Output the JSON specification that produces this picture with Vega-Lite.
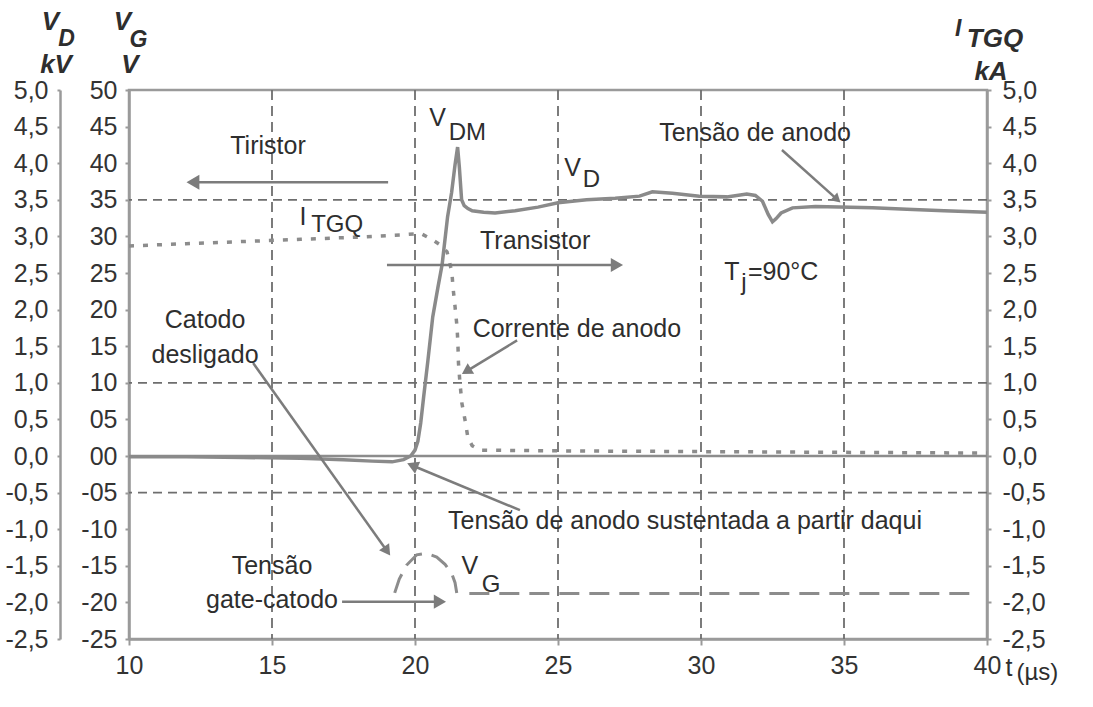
{
  "$schema": "https://vega.github.io/schema/vega-lite/v6.json",
  "width": 858,
  "height": 549,
  "autosize": {"type": "none"},
  "padding": {"left": 129, "top": 90, "right": 106, "bottom": 68},
  "background": "white",
  "config": {
    "view": {"stroke": "#9a9a9a", "strokeWidth": 2.5},
    "axis": {
      "labelFont": "Liberation Sans",
      "labelFontSize": 25,
      "labelColor": "#333333",
      "domainColor": "#9a9a9a",
      "domainWidth": 2.5,
      "tickColor": "#9a9a9a",
      "tickWidth": 2,
      "grid": false,
      "labelOverlap": false,
      "labelFlush": false
    },
    "text": {"font": "Liberation Sans", "color": "#2e2e2e"}
  },
  "datasets": {
    "gridv": [{"t": 15}, {"t": 20}, {"t": 25}, {"t": 30}, {"t": 35}],
    "gridh": [{"kv": 3.5}, {"kv": 1.0}, {"kv": -0.5}],
    "zero": [{"kv": 0}],
    "vd": [
      {"t": 10, "v": -0.01}, {"t": 12, "v": -0.01}, {"t": 14, "v": -0.02}, {"t": 16, "v": -0.03},
      {"t": 17.5, "v": -0.05}, {"t": 18.5, "v": -0.07}, {"t": 19.2, "v": -0.08}, {"t": 19.6, "v": -0.05},
      {"t": 19.85, "v": 0}, {"t": 20, "v": 0.08}, {"t": 20.1, "v": 0.2}, {"t": 20.2, "v": 0.45},
      {"t": 20.3, "v": 0.8}, {"t": 20.45, "v": 1.3}, {"t": 20.62, "v": 1.9}, {"t": 20.8, "v": 2.3},
      {"t": 20.95, "v": 2.62}, {"t": 21.14, "v": 3.27}, {"t": 21.28, "v": 3.6}, {"t": 21.4, "v": 3.98},
      {"t": 21.49, "v": 4.22}, {"t": 21.55, "v": 3.95}, {"t": 21.63, "v": 3.5}, {"t": 21.72, "v": 3.42},
      {"t": 21.85, "v": 3.38}, {"t": 22, "v": 3.35}, {"t": 22.4, "v": 3.33}, {"t": 22.8, "v": 3.32},
      {"t": 23.5, "v": 3.35}, {"t": 24.3, "v": 3.4}, {"t": 25, "v": 3.46}, {"t": 26, "v": 3.5},
      {"t": 27, "v": 3.52}, {"t": 27.85, "v": 3.55}, {"t": 28.3, "v": 3.61}, {"t": 29, "v": 3.59},
      {"t": 29.94, "v": 3.55}, {"t": 30.9, "v": 3.54}, {"t": 31.6, "v": 3.58}, {"t": 31.9, "v": 3.56},
      {"t": 32.15, "v": 3.48}, {"t": 32.35, "v": 3.3}, {"t": 32.5, "v": 3.2}, {"t": 32.62, "v": 3.24},
      {"t": 32.8, "v": 3.32}, {"t": 33.2, "v": 3.39}, {"t": 34, "v": 3.41}, {"t": 34.83, "v": 3.4},
      {"t": 36, "v": 3.39}, {"t": 37.2, "v": 3.37}, {"t": 38.5, "v": 3.35}, {"t": 40, "v": 3.33}
    ],
    "itgq": [
      {"t": 10, "i": 2.87}, {"t": 12, "i": 2.9}, {"t": 14, "i": 2.93}, {"t": 16, "i": 2.96},
      {"t": 18, "i": 2.99}, {"t": 19.5, "i": 3.02}, {"t": 20.2, "i": 3.04}, {"t": 20.59, "i": 2.96},
      {"t": 20.9, "i": 2.88}, {"t": 21.12, "i": 2.79}, {"t": 21.29, "i": 2.51}, {"t": 21.33, "i": 2.3},
      {"t": 21.4, "i": 2.04}, {"t": 21.47, "i": 1.76}, {"t": 21.5, "i": 1.54}, {"t": 21.52, "i": 1.27},
      {"t": 21.57, "i": 1.01}, {"t": 21.64, "i": 0.72}, {"t": 21.75, "i": 0.49}, {"t": 21.85, "i": 0.25},
      {"t": 22, "i": 0.14}, {"t": 22.27, "i": 0.08}, {"t": 25, "i": 0.07}, {"t": 30, "i": 0.06},
      {"t": 35, "i": 0.05}, {"t": 40, "i": 0.04}
    ],
    "vg": [
      {"t": 19.29, "vg": -18.7, "seg": "a"}, {"t": 19.45, "vg": -16.8, "seg": "a"}, {"t": 19.71, "vg": -14.9, "seg": "a"},
      {"t": 20.06, "vg": -13.5, "seg": "a"}, {"t": 20.4, "vg": -13.3, "seg": "a"}, {"t": 20.76, "vg": -13.8, "seg": "a"},
      {"t": 21.05, "vg": -14.8, "seg": "a"}, {"t": 21.28, "vg": -16.0, "seg": "a"}, {"t": 21.4, "vg": -17.3, "seg": "a"},
      {"t": 21.46, "vg": -18.7, "seg": "a"},
      {"t": 21.9, "vg": -18.8, "seg": "b"}, {"t": 39.4, "vg": -18.8, "seg": "b"}
    ],
    "arrows": [
      {"id": "tiristor", "t": 12.31, "v": 3.74, "t0": 19.06, "v0": 3.74},
      {"id": "transistor", "t": 26.99, "v": 2.61, "t0": 19.02, "v0": 2.61},
      {"id": "anodo", "t": 34.72, "v": 3.52, "t0": 32.83, "v0": 4.18},
      {"id": "catodo", "t": 18.99, "v": -1.28, "t0": 14.34, "v0": 1.27},
      {"id": "corrente", "t": 21.85, "v": 1.17, "t0": 23.57, "v0": 1.58},
      {"id": "sustentada", "t": 19.97, "v": -0.14, "t0": 23.67, "v0": -0.74},
      {"id": "gate", "t": 20.8, "v": -1.99, "t0": 17.45, "v0": -1.99}
    ],
    "notes": [
      {"t": 14.86, "v": 4.23, "text": "Tiristor"},
      {"t": 24.2, "v": 2.94, "text": "Transistor"},
      {"t": 31.89, "v": 4.41, "text": "Tensão de anodo"},
      {"t": 25.66, "v": 1.73, "text": "Corrente de anodo"},
      {"t": 12.66, "v": 1.86, "text": "Catodo"},
      {"t": 12.66, "v": 1.38, "text": "desligado"},
      {"t": 29.44, "v": -0.89, "text": "Tensão de anodo sustentada a partir daqui"},
      {"t": 15.0, "v": -1.5, "text": "Tensão"},
      {"t": 15.0, "v": -1.97, "text": "gate-catodo"},
      {"t": 20.79, "v": 4.62, "text": "V"},
      {"t": 25.51, "v": 3.94, "text": "V"},
      {"t": 16.08, "v": 3.27, "text": "I"},
      {"t": 21.92, "v": -1.5, "text": "V"},
      {"t": 31.08, "v": 2.51, "text": "T"},
      {"t": 40.77, "v": -2.89, "text": "t"}
    ],
    "subs": [
      {"t": 21.83, "v": 4.41, "text": "DM"},
      {"t": 26.17, "v": 3.77, "text": "D"},
      {"t": 17.28, "v": 3.16, "text": "TGQ"},
      {"t": 22.66, "v": -1.76, "text": "G"},
      {"t": 31.5, "v": 2.37, "text": "j"},
      {"t": 41.76, "v": -2.97, "text": "(µs)"}
    ],
    "leftnotes": [
      {"t": 31.64, "v": 2.51, "text": "=90°C"}
    ],
    "titles": [
      {"t": 7.25, "v": 5.93, "text": "V"},
      {"t": 7.45, "v": 5.34, "text": "kV"},
      {"t": 9.77, "v": 5.93, "text": "V"},
      {"t": 10.03, "v": 5.34, "text": "V"},
      {"t": 40.28, "v": 5.7, "text": "TGQ"},
      {"t": 40.14, "v": 5.25, "text": "kA"}
    ],
    "titlesubs": [
      {"t": 7.82, "v": 5.7, "text": "D"},
      {"t": 10.33, "v": 5.68, "text": "G"},
      {"t": 38.99, "v": 5.83, "text": "I"}
    ]
  },
  "layer": [
    {
      "data": {"name": "gridv"},
      "mark": {"type": "rule", "color": "#6e6e6e", "strokeWidth": 1.8, "strokeDash": [10, 6]},
      "encoding": {
        "x": {
          "field": "t", "type": "quantitative",
          "scale": {"domain": [10, 40], "nice": false, "zero": false},
          "axis": {"orient": "bottom", "values": [10, 15, 20, 25, 30, 35, 40], "title": null, "tickSize": 6, "labelPadding": 8, "labelFontSize": 25, "labelColor": "#333333"}
        }
      }
    },
    {
      "data": {"name": "gridh"},
      "mark": {"type": "rule", "color": "#6e6e6e", "strokeWidth": 1.8, "strokeDash": [9, 6]},
      "encoding": {
        "y": {"field": "kv", "type": "quantitative", "scale": {"domain": [-2.5, 5], "nice": false, "zero": false}, "axis": null}
      }
    },
    {
      "data": {"name": "zero"},
      "mark": {"type": "rule", "color": "#8c8c8c", "strokeWidth": 2.5},
      "encoding": {
        "y": {"field": "kv", "type": "quantitative", "scale": {"domain": [-2.5, 5], "nice": false, "zero": false}, "axis": null}
      }
    },
    {
      "data": {"name": "vg"},
      "mark": {"type": "line", "color": "#8c8c8c", "strokeWidth": 3, "strokeDash": [20, 10]},
      "encoding": {
        "x": {"field": "t", "type": "quantitative", "scale": {"domain": [10, 40], "nice": false, "zero": false}},
        "y": {
          "field": "vg", "type": "quantitative",
          "scale": {"domain": [-25, 50], "nice": false, "zero": false},
          "axis": {
            "orient": "left", "offset": 0, "title": null,
            "values": [-25, -20, -15, -10, -5, 0, 5, 10, 15, 20, 25, 30, 35, 40, 45, 50],
            "labelExpr": "(datum.value < 0 ? '-' : '') + (abs(datum.value) < 10 ? '0' : '') + abs(datum.value)",
            "tickSize": 4, "labelPadding": 8
          }
        },
        "detail": {"field": "seg", "type": "nominal"}
      }
    },
    {
      "data": {"name": "itgq"},
      "mark": {"type": "line", "color": "#8c8c8c", "strokeWidth": 3.5, "strokeDash": [5, 9]},
      "encoding": {
        "x": {"field": "t", "type": "quantitative", "scale": {"domain": [10, 40], "nice": false, "zero": false}},
        "y": {
          "field": "i", "type": "quantitative",
          "scale": {"domain": [-2.5, 5], "nice": false, "zero": false},
          "axis": {
            "orient": "right", "title": null,
            "values": [-2.5, -2, -1.5, -1, -0.5, 0, 0.5, 1, 1.5, 2, 2.5, 3, 3.5, 4, 4.5, 5],
            "labelExpr": "(datum.value < 0 ? '-' : '') + replace(format(abs(datum.value), '.1f'), '.', ',')",
            "tickSize": 4, "labelPadding": 11
          }
        }
      }
    },
    {
      "data": {"name": "vd"},
      "mark": {"type": "line", "color": "#8a8a8a", "strokeWidth": 3.5},
      "encoding": {
        "x": {"field": "t", "type": "quantitative", "scale": {"domain": [10, 40], "nice": false, "zero": false}},
        "y": {
          "field": "v", "type": "quantitative",
          "scale": {"domain": [-2.5, 5], "nice": false, "zero": false},
          "axis": {
            "orient": "left", "offset": 69, "title": null,
            "values": [-2.5, -2, -1.5, -1, -0.5, 0, 0.5, 1, 1.5, 2, 2.5, 3, 3.5, 4, 4.5, 5],
            "labelExpr": "(datum.value < 0 ? '-' : '') + replace(format(abs(datum.value), '.1f'), '.', ',')",
            "tickSize": 3, "labelPadding": 9
          }
        }
      }
    },
    {
      "data": {"name": "arrows"},
      "mark": {"type": "rule", "color": "#7c7c7c", "strokeWidth": 2.5},
      "encoding": {
        "x": {"field": "t", "type": "quantitative", "scale": {"domain": [10, 40], "nice": false, "zero": false}},
        "x2": {"field": "t0"},
        "y": {"field": "v", "type": "quantitative", "scale": {"domain": [-2.5, 5], "nice": false, "zero": false}, "axis": null},
        "y2": {"field": "v0"}
      }
    },
    {
      "data": {"name": "arrows"},
      "transform": [{"filter": "datum.id == 'tiristor'"}],
      "mark": {"type": "point", "shape": "triangle", "angle": 270, "filled": true, "size": 220, "color": "#7c7c7c", "opacity": 1},
      "encoding": {
        "x": {"field": "t", "type": "quantitative", "scale": {"domain": [10, 40], "nice": false, "zero": false}},
        "y": {"field": "v", "type": "quantitative", "scale": {"domain": [-2.5, 5], "nice": false, "zero": false}, "axis": null}
      }
    },
    {
      "data": {"name": "arrows"},
      "transform": [{"filter": "datum.id == 'transistor' || datum.id == 'gate'"}],
      "mark": {"type": "point", "shape": "triangle", "angle": 90, "filled": true, "size": 200, "color": "#7c7c7c", "opacity": 1},
      "encoding": {
        "x": {"field": "t", "type": "quantitative", "scale": {"domain": [10, 40], "nice": false, "zero": false}},
        "y": {"field": "v", "type": "quantitative", "scale": {"domain": [-2.5, 5], "nice": false, "zero": false}, "axis": null}
      }
    },
    {
      "data": {"name": "arrows"},
      "transform": [{"filter": "datum.id == 'anodo'"}],
      "mark": {"type": "point", "shape": "triangle", "angle": 132, "filled": true, "size": 110, "color": "#7c7c7c", "opacity": 1},
      "encoding": {
        "x": {"field": "t", "type": "quantitative", "scale": {"domain": [10, 40], "nice": false, "zero": false}},
        "y": {"field": "v", "type": "quantitative", "scale": {"domain": [-2.5, 5], "nice": false, "zero": false}, "axis": null}
      }
    },
    {
      "data": {"name": "arrows"},
      "transform": [{"filter": "datum.id == 'catodo'"}],
      "mark": {"type": "point", "shape": "triangle", "angle": 145, "filled": true, "size": 150, "color": "#7c7c7c", "opacity": 1},
      "encoding": {
        "x": {"field": "t", "type": "quantitative", "scale": {"domain": [10, 40], "nice": false, "zero": false}},
        "y": {"field": "v", "type": "quantitative", "scale": {"domain": [-2.5, 5], "nice": false, "zero": false}, "axis": null}
      }
    },
    {
      "data": {"name": "arrows"},
      "transform": [{"filter": "datum.id == 'corrente'"}],
      "mark": {"type": "point", "shape": "triangle", "angle": 238, "filled": true, "size": 150, "color": "#7c7c7c", "opacity": 1},
      "encoding": {
        "x": {"field": "t", "type": "quantitative", "scale": {"domain": [10, 40], "nice": false, "zero": false}},
        "y": {"field": "v", "type": "quantitative", "scale": {"domain": [-2.5, 5], "nice": false, "zero": false}, "axis": null}
      }
    },
    {
      "data": {"name": "arrows"},
      "transform": [{"filter": "datum.id == 'sustentada'"}],
      "mark": {"type": "point", "shape": "triangle", "angle": 293, "filled": true, "size": 170, "color": "#7c7c7c", "opacity": 1},
      "encoding": {
        "x": {"field": "t", "type": "quantitative", "scale": {"domain": [10, 40], "nice": false, "zero": false}},
        "y": {"field": "v", "type": "quantitative", "scale": {"domain": [-2.5, 5], "nice": false, "zero": false}, "axis": null}
      }
    },
    {
      "data": {"name": "notes"},
      "mark": {"type": "text", "fontSize": 25, "align": "center", "baseline": "middle"},
      "encoding": {
        "x": {"field": "t", "type": "quantitative", "scale": {"domain": [10, 40], "nice": false, "zero": false}},
        "y": {"field": "v", "type": "quantitative", "scale": {"domain": [-2.5, 5], "nice": false, "zero": false}, "axis": null},
        "text": {"field": "text"}
      }
    },
    {
      "data": {"name": "subs"},
      "mark": {"type": "text", "fontSize": 24, "align": "center", "baseline": "middle"},
      "encoding": {
        "x": {"field": "t", "type": "quantitative", "scale": {"domain": [10, 40], "nice": false, "zero": false}},
        "y": {"field": "v", "type": "quantitative", "scale": {"domain": [-2.5, 5], "nice": false, "zero": false}, "axis": null},
        "text": {"field": "text"}
      }
    },
    {
      "data": {"name": "leftnotes"},
      "mark": {"type": "text", "fontSize": 25, "align": "left", "baseline": "middle"},
      "encoding": {
        "x": {"field": "t", "type": "quantitative", "scale": {"domain": [10, 40], "nice": false, "zero": false}},
        "y": {"field": "v", "type": "quantitative", "scale": {"domain": [-2.5, 5], "nice": false, "zero": false}, "axis": null},
        "text": {"field": "text"}
      }
    },
    {
      "data": {"name": "titles"},
      "mark": {"type": "text", "fontSize": 26, "fontWeight": "bold", "fontStyle": "italic", "align": "center", "baseline": "middle"},
      "encoding": {
        "x": {"field": "t", "type": "quantitative", "scale": {"domain": [10, 40], "nice": false, "zero": false}},
        "y": {"field": "v", "type": "quantitative", "scale": {"domain": [-2.5, 5], "nice": false, "zero": false}, "axis": null},
        "text": {"field": "text"}
      }
    },
    {
      "data": {"name": "titlesubs"},
      "mark": {"type": "text", "fontSize": 23, "fontWeight": "bold", "fontStyle": "italic", "align": "center", "baseline": "middle"},
      "encoding": {
        "x": {"field": "t", "type": "quantitative", "scale": {"domain": [10, 40], "nice": false, "zero": false}},
        "y": {"field": "v", "type": "quantitative", "scale": {"domain": [-2.5, 5], "nice": false, "zero": false}, "axis": null},
        "text": {"field": "text"}
      }
    }
  ],
  "resolve": {"scale": {"y": "independent"}, "axis": {"y": "independent"}}
}
